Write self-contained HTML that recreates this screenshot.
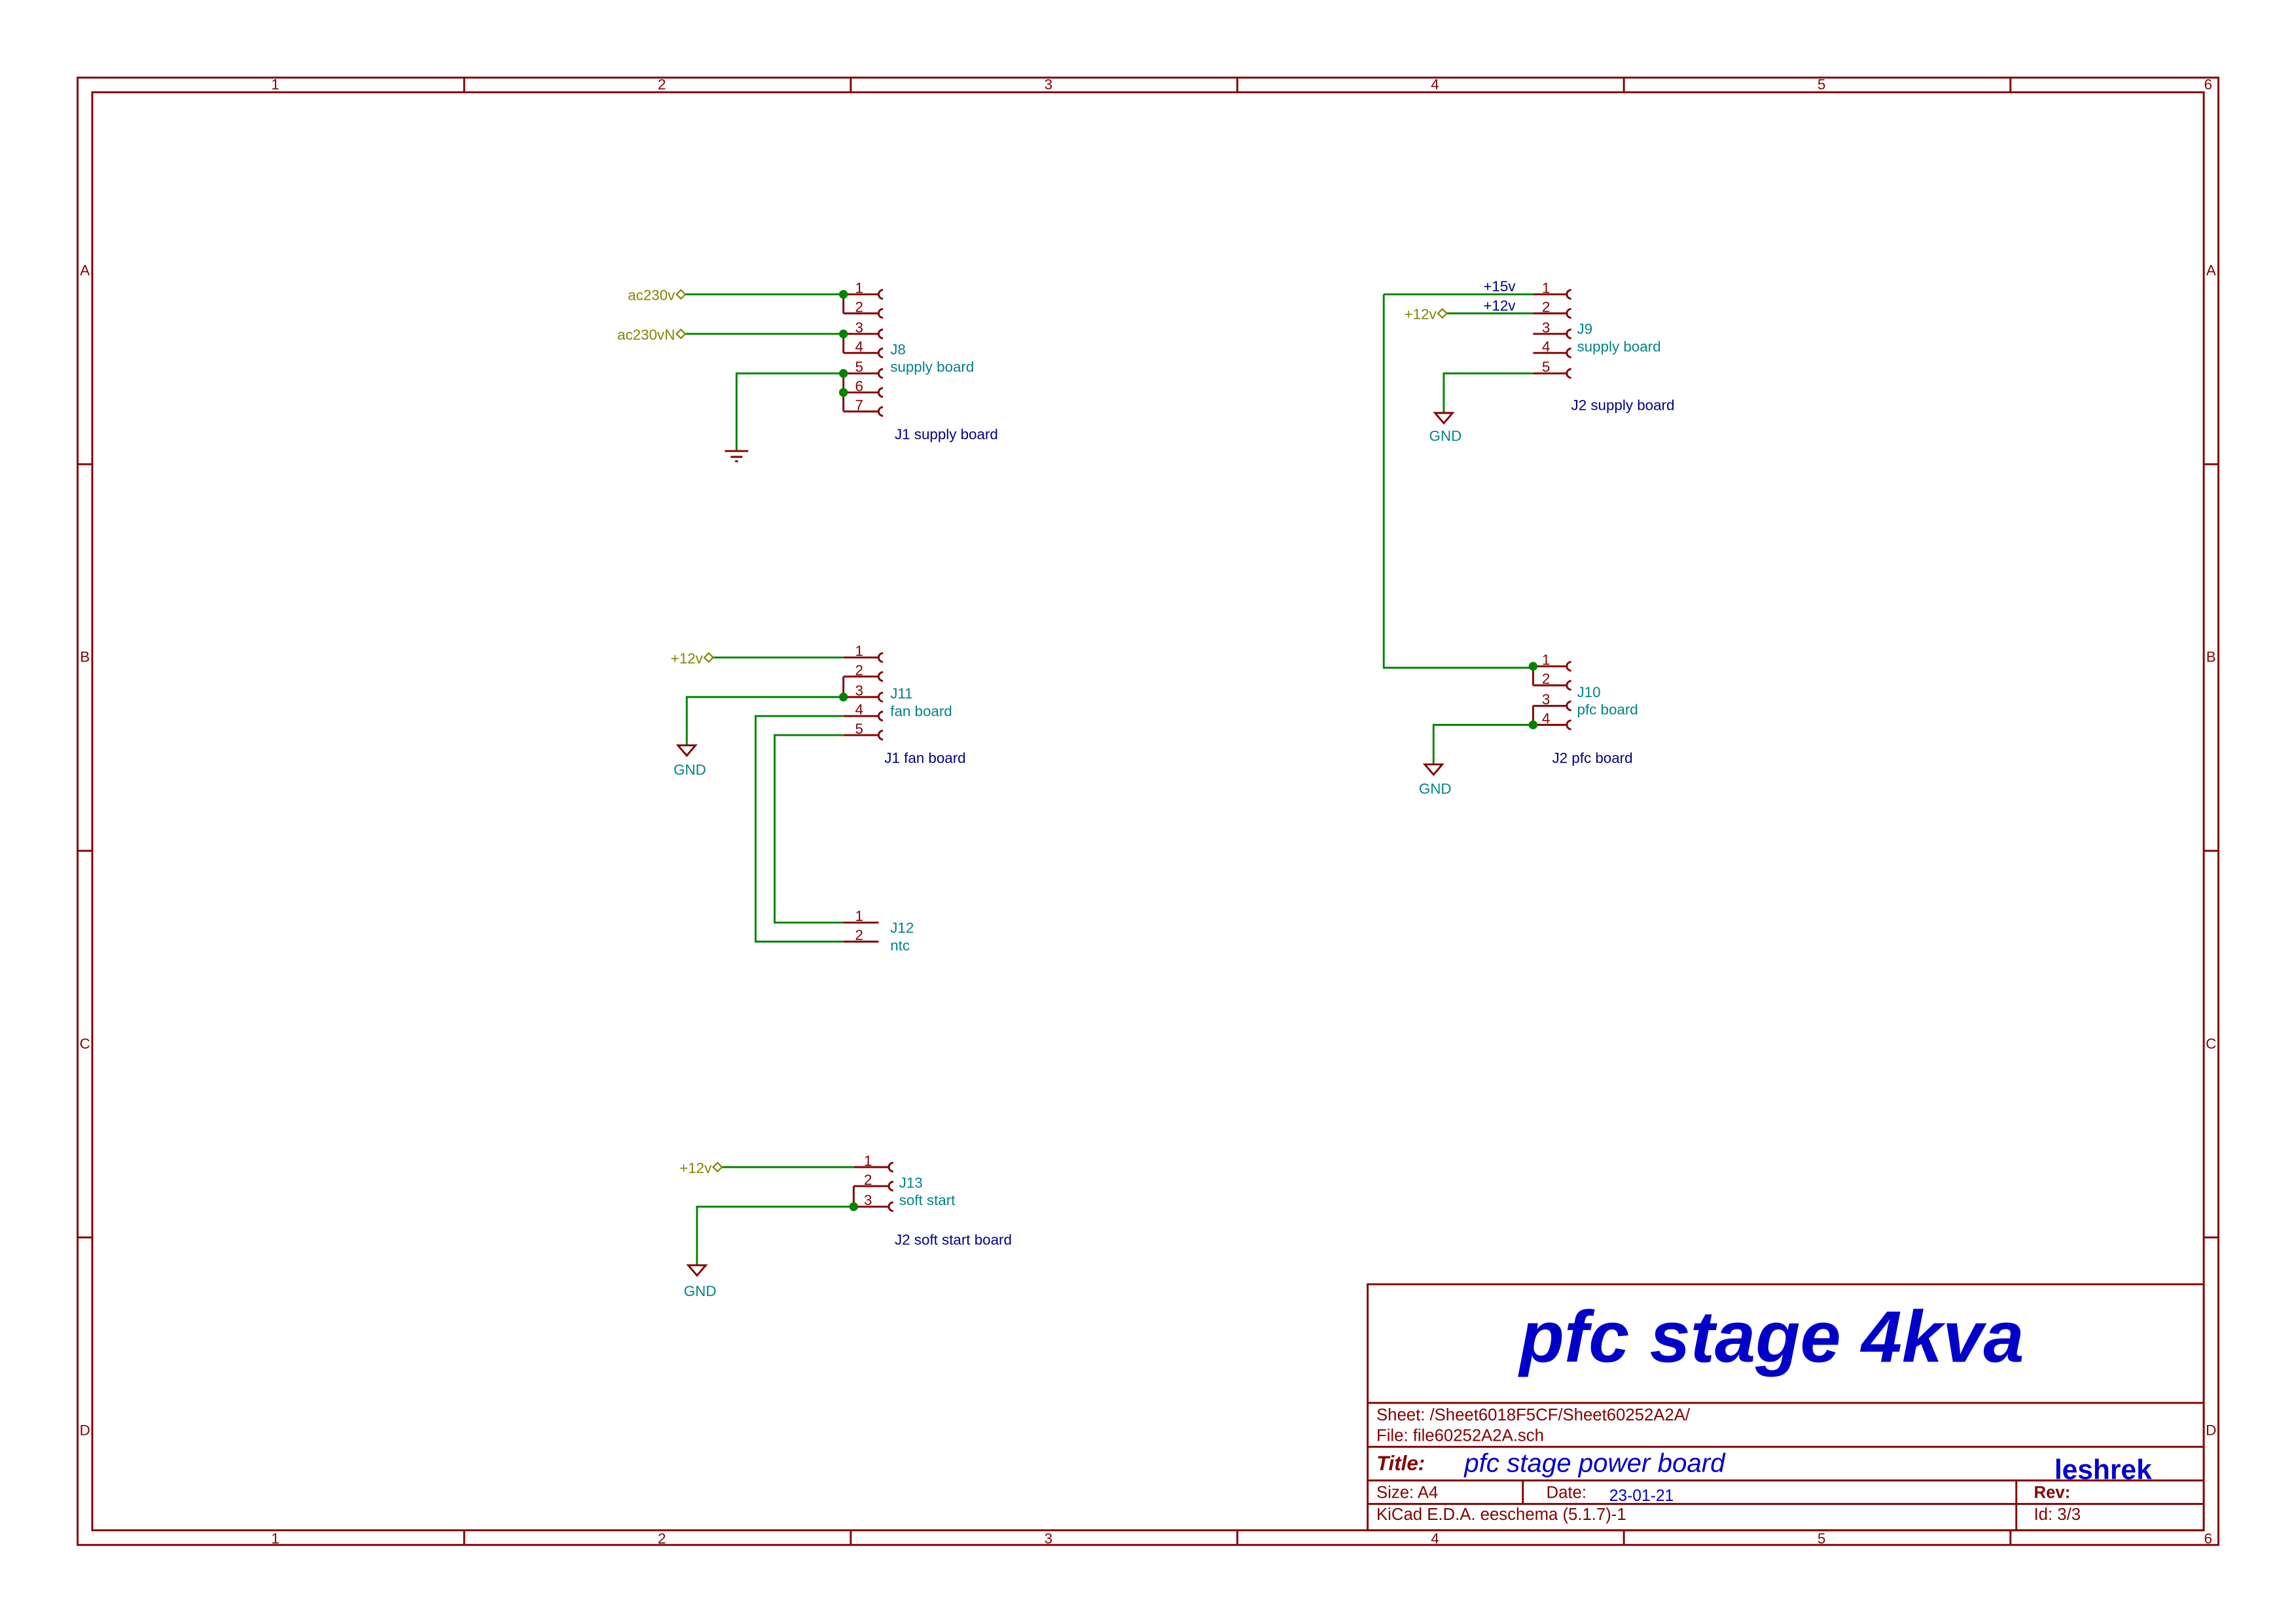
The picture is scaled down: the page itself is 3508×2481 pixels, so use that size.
<!DOCTYPE html>
<html><head><meta charset="utf-8"><style>
html,body{margin:0;padding:0;background:#fff}
svg{display:block}
text{font-family:"Liberation Sans",sans-serif}
</style></head><body>
<svg width="3508" height="2481" viewBox="0 0 1568 1109" preserveAspectRatio="none" xmlns="http://www.w3.org/2000/svg">
<rect width="1568" height="1109" fill="#fff"/>
<g stroke="#840000" stroke-width="1.3" fill="none">
<rect x="53" y="53" width="1462" height="1002"/>
<rect x="63" y="63" width="1442" height="982"/>
<path d="M317 53V63M581 53V63M845 53V63M1109 53V63M1373 53V63M317 1045V1055M581 1045V1055M845 1045V1055M1109 1045V1055M1373 1045V1055M53 317H63M53 581H63M53 845H63M1505 317H1515M1505 581H1515M1505 845H1515"/>
<rect x="934" y="877" width="571" height="168"/>
<path d="M934 958H1505M934 988H1505M934 1011H1505M934 1027H1505M1040 1011V1027M1377 1011V1045"/>
</g>
<g fill="#840000" font-size="10" text-anchor="middle">
<text x="188" y="61">1</text><text x="452" y="61">2</text><text x="716" y="61">3</text><text x="980" y="61">4</text><text x="1244" y="61">5</text><text x="1508" y="61">6</text>
<text x="188" y="1054">1</text><text x="452" y="1054">2</text><text x="716" y="1054">3</text><text x="980" y="1054">4</text><text x="1244" y="1054">5</text><text x="1508" y="1054">6</text>
<text x="58" y="188">A</text><text x="58" y="452">B</text><text x="58" y="716">C</text><text x="58" y="980">D</text>
<text x="1510" y="188">A</text><text x="1510" y="452">B</text><text x="1510" y="716">C</text><text x="1510" y="980">D</text>
</g>
<!-- title block text -->
<text x="1210" y="930" font-size="50" font-weight="bold" font-style="italic" fill="#0000c8" text-anchor="middle">pfc stage 4kva</text>
<g fill="#840000" font-size="11.5">
<text x="940" y="970">Sheet: /Sheet6018F5CF/Sheet60252A2A/</text>
<text x="940" y="984">File: file60252A2A.sch</text>
<text x="940" y="1004" font-weight="bold" font-style="italic" font-size="14">Title:</text>
<text x="940" y="1023">Size: A4</text>
<text x="1056" y="1023">Date:</text>
<text x="940" y="1038">KiCad E.D.A.  eeschema (5.1.7)-1</text>
<text x="1389" y="1023" font-weight="bold">Rev:</text>
<text x="1389" y="1038">Id: 3/3</text>
</g>
<text x="1000" y="1005" font-size="18" font-style="italic" fill="#0000c8">pfc stage power board</text>
<text x="1403" y="1010" font-size="19" font-weight="bold" fill="#0000c8">leshrek</text>
<text x="1099" y="1025" font-size="11" fill="#0000c8">23-01-21</text>

<!-- wires -->
<g stroke="#008400" stroke-width="1.3" fill="none">
<path d="M468 201H576M468 228H576M576 255H503V308"/>
<path d="M988 214H1047M945 201H1047M945 201V456H1047M1047 255H986V282"/>
<path d="M1047 495H979V522"/>
<path d="M487 449H576M576 476H469V509M576 489H516V643H576M576 502H529V630H576"/>
<path d="M493 797H583M583 824H476V864"/>
</g>
<!-- pins -->
<g stroke="#840000" stroke-width="1.3" fill="none">
<path d="M576 201H600M576 214H600M576 228H600M576 241H600M576 255H600M576 268H600M576 281H600M576 201V214M576 228V241M576 255V281"/>
<path d="M603 198a3 3 0 0 0 0 6M603 211a3 3 0 0 0 0 6M603 225a3 3 0 0 0 0 6M603 238a3 3 0 0 0 0 6M603 252a3 3 0 0 0 0 6M603 265a3 3 0 0 0 0 6M603 278a3 3 0 0 0 0 6"/>
<path d="M1047 201H1070M1047 214H1070M1047 228H1070M1047 241H1070M1047 255H1070"/>
<path d="M1073 198a3 3 0 0 0 0 6M1073 211a3 3 0 0 0 0 6M1073 225a3 3 0 0 0 0 6M1073 238a3 3 0 0 0 0 6M1073 252a3 3 0 0 0 0 6"/>
<path d="M1047 455H1070M1047 468H1070M1047 482H1070M1047 495H1070M1047 455V468M1047 482V495"/>
<path d="M1073 452a3 3 0 0 0 0 6M1073 465a3 3 0 0 0 0 6M1073 479a3 3 0 0 0 0 6M1073 492a3 3 0 0 0 0 6"/>
<path d="M576 449H600M576 462H600M576 476H600M576 489H600M576 502H600M576 462V476"/>
<path d="M603 446a3 3 0 0 0 0 6M603 459a3 3 0 0 0 0 6M603 473a3 3 0 0 0 0 6M603 486a3 3 0 0 0 0 6M603 499a3 3 0 0 0 0 6"/>
<path d="M576 630H600M576 643H600"/>
<path d="M583 797H607M583 810H607M583 824H607M583 810V824"/>
<path d="M610 794a3 3 0 0 0 0 6M610 807a3 3 0 0 0 0 6M610 821a3 3 0 0 0 0 6"/>
<!-- earth -->
<path d="M495 308H511M499 312H507M502 315H504"/>
<!-- GND -->
<path d="M980 282H992L986 289Z M463 509H475L469 516Z M973 522H985L979 529Z M470 864H482L476 871Z"/>
</g>
<!-- junctions -->
<g fill="#008400">
<circle cx="576" cy="201" r="3"/><circle cx="576" cy="228" r="3"/><circle cx="576" cy="255" r="3"/><circle cx="576" cy="268" r="3"/>
<circle cx="1047" cy="455" r="3"/><circle cx="1047" cy="495" r="3"/>
<circle cx="576" cy="476" r="3"/><circle cx="583" cy="824" r="3"/>
</g>
<!-- pin numbers -->
<g fill="#840000" font-size="10">
<text x="584" y="200">1</text><text x="584" y="213">2</text><text x="584" y="227">3</text><text x="584" y="240">4</text><text x="584" y="254">5</text><text x="584" y="267">6</text><text x="584" y="280">7</text>
<text x="1053" y="200">1</text><text x="1053" y="213">2</text><text x="1053" y="227">3</text><text x="1053" y="240">4</text><text x="1053" y="254">5</text>
<text x="1053" y="454">1</text><text x="1053" y="467">2</text><text x="1053" y="481">3</text><text x="1053" y="494">4</text>
<text x="584" y="448">1</text><text x="584" y="461">2</text><text x="584" y="475">3</text><text x="584" y="488">4</text><text x="584" y="501">5</text>
<text x="584" y="629">1</text><text x="584" y="642">2</text>
<text x="590" y="796">1</text><text x="590" y="809">2</text><text x="590" y="823">3</text>
</g>
<!-- global labels -->
<g fill="#848400" font-size="10" text-anchor="end">
<text x="461" y="205">ac230v</text><text x="461" y="232">ac230vN</text>
<text x="981" y="218">+12v</text><text x="480" y="453">+12v</text><text x="486" y="801">+12v</text>
</g>
<g stroke="#848400" stroke-width="1" fill="none">
<path d="M462 201l3-3 3 3-3 3z M462 228l3-3 3 3-3 3z M982 214l3-3 3 3-3 3z M481 449l3-3 3 3-3 3z M487 797l3-3 3 3-3 3z"/>
</g>
<!-- ref / value labels -->
<g fill="#008484" font-size="10">
<text x="608" y="242">J8</text><text x="608" y="254">supply board</text>
<text x="1077" y="228">J9</text><text x="1077" y="240">supply board</text>
<text x="1077" y="476">J10</text><text x="1077" y="488">pfc board</text>
<text x="608" y="477">J11</text><text x="608" y="489">fan board</text>
<text x="608" y="637">J12</text><text x="608" y="649">ntc</text>
<text x="614" y="811">J13</text><text x="614" y="823">soft start</text>
<text x="976" y="301">GND</text><text x="460" y="529">GND</text><text x="969" y="542">GND</text><text x="467" y="885">GND</text>
</g>
<g fill="#000084" font-size="10">
<text x="611" y="300">J1 supply board</text>
<text x="1073" y="280">J2 supply board</text>
<text x="1060" y="521">J2 pfc board</text>
<text x="604" y="521">J1 fan board</text>
<text x="611" y="850">J2 soft start board</text>
<text x="1013" y="199">+15v</text><text x="1013" y="212">+12v</text>
</g>
</svg>
</body></html>
